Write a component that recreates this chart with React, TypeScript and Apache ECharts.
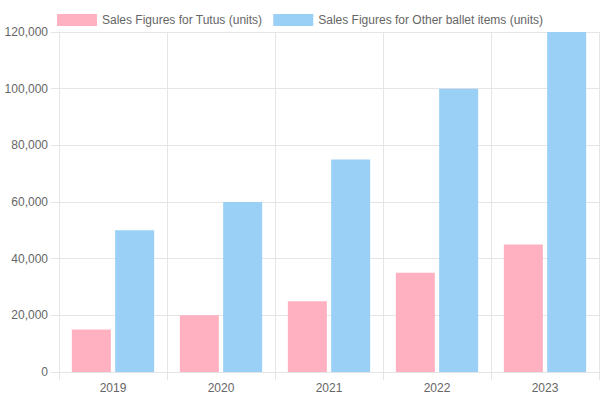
import { useEffect, useRef } from 'react'
import * as echarts from 'echarts'

const years = ['2019', '2020', '2021', '2022', '2023']
const tutus = [15000, 20000, 25000, 35000, 45000]
const otherItems = [50000, 60000, 75000, 100000, 120000]
const seriesNames = ['Sales Figures for Tutus (units)', 'Sales Figures for Other ballet items (units)']

const gridColor = '#e5e5e5'
const textColor = '#666'
const font = 'Liberation Sans, Arial, Helvetica, sans-serif'

function App() {
  const chartRef = useRef<HTMLDivElement>(null)

  useEffect(() => {
    if (!chartRef.current) return
    const chart = echarts.init(chartRef.current, null, { renderer: 'svg' })

    const option: echarts.EChartsOption = {
      animation: false,
      backgroundColor: '#fff',
      textStyle: { fontFamily: font },
      legend: {
        top: 9,
        left: 'center',
        itemWidth: 40,
        itemHeight: 12,
        itemGap: 11,
        icon: 'rect',
        textStyle: { color: textColor, fontSize: 12, fontFamily: font },
        data: seriesNames,
      },
      grid: { left: 59, right: 1, top: 32, bottom: 28 },
      xAxis: {
        type: 'category',
        data: years,
        axisLine: { lineStyle: { color: gridColor } },
        axisTick: { show: true, length: 8, lineStyle: { color: gridColor } },
        splitLine: { show: true, lineStyle: { color: gridColor } },
        axisLabel: { color: textColor, fontSize: 12, margin: 10, fontFamily: font },
      },
      yAxis: {
        type: 'value',
        min: 0,
        max: 120000,
        interval: 20000,
        axisLine: { show: true, lineStyle: { color: gridColor } },
        axisTick: { show: true, length: 8, lineStyle: { color: gridColor } },
        splitLine: { show: true, lineStyle: { color: gridColor } },
        axisLabel: {
          color: textColor,
          fontSize: 12,
          margin: 11,
          fontFamily: font,
          formatter: (v: number) => v.toLocaleString('en-US'),
        },
      },
      series: [
        {
          name: seriesNames[0],
          type: 'bar',
          data: tutus,
          barWidth: 39,
          barGap: '11%',
          itemStyle: { color: '#ffb1c1' },
        },
        {
          name: seriesNames[1],
          type: 'bar',
          data: otherItems,
          barWidth: 39,
          itemStyle: { color: '#9ad0f5' },
        },
      ],
    }

    chart.setOption(option)
    return () => {
      chart.dispose()
    }
  }, [])

  return (
    <div
      ref={chartRef}
      style={{ position: 'fixed', left: 0, top: 0, width: '600px', height: '400px' }}
    />
  )
}

export default App
